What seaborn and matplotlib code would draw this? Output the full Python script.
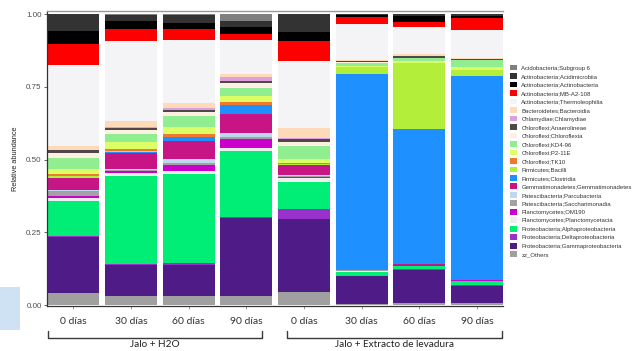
import matplotlib
matplotlib.use("Agg")
import matplotlib.pyplot as plt
import numpy as np
import pandas as pd
import seaborn as sns
from matplotlib.lines import Line2D
from matplotlib.patches import Patch, Rectangle

# taxa in legend order (top of the stack first)
taxa = [
    "Acidobacteria;Subgroup 6",
    "Actinobacteria;Acidimicrobiia",
    "Actinobacteria;Actinobacteria",
    "Actinobacteria;MB-A2-108",
    "Actinobacteria;Thermoleophilia",
    "Bacteroidetes;Bacteroidia",
    "Chlamydiae;Chlamydiae",
    "Chloroflexi;Anaerolineae",
    "Chloroflexi;Chloroflexia",
    "Chloroflexi;KD4-96",
    "Chloroflexi;P2-11E",
    "Chloroflexi;TK10",
    "Firmicutes;Bacilli",
    "Firmicutes;Clostridia",
    "Gemmatimonadetes;Gemmatimonadetes",
    "Patescibacteria;Parcubacteria",
    "Patescibacteria;Saccharimonadia",
    "Planctomycetes;OM190",
    "Planctomycetes;Planctomycetacia",
    "Proteobacteria;Alphaproteobacteria",
    "Proteobacteria;Deltaproteobacteria",
    "Proteobacteria;Gammaproteobacteria",
    "zz_Others",
]
colours = [
    "#808080", "#333333", "#000000", "#FF0000", "#F4F3F5", "#FFDAB9",
    "#DDA0DD", "#4F4848", "#FDF0E0", "#90EE90", "#DDFF66", "#EE7A30",
    "#B3EE3A", "#1E90FF", "#C71585", "#BFD8EE", "#A4A0A4", "#CC00CC",
    "#EFEDF1", "#00EE76", "#9932CC", "#4F1B87", "#A0A0A0",
]

samples = ["H2O_0", "H2O_30", "H2O_60", "H2O_90", "LEV_0", "LEV_30", "LEV_60", "LEV_90"]
tick_labels = ["0 días", "30 días", "60 días", "90 días", "0 días", "30 días", "60 días", "90 días"]

# relative abundance per sample, same order as taxa
h2o_0 = [0.000, 0.057, 0.046, 0.073, 0.278, 0.012, 0.002, 0.008, 0.019, 0.036, 0.019, 0.008,
         0.005, 0.002, 0.040, 0.004, 0.017, 0.007, 0.008, 0.122, 0.004, 0.190, 0.043]
h2o_30 = [0.005, 0.020, 0.027, 0.040, 0.276, 0.020, 0.002, 0.008, 0.013, 0.029, 0.023, 0.007,
          0.003, 0.004, 0.055, 0.004, 0.003, 0.009, 0.010, 0.300, 0.004, 0.107, 0.031]
h2o_60 = [0.005, 0.026, 0.021, 0.039, 0.216, 0.015, 0.007, 0.007, 0.016, 0.035, 0.027, 0.008,
          0.002, 0.012, 0.063, 0.012, 0.008, 0.020, 0.011, 0.306, 0.006, 0.108, 0.030]
h2o_90 = [0.023, 0.021, 0.025, 0.019, 0.118, 0.011, 0.014, 0.007, 0.016, 0.029, 0.018, 0.010,
          0.002, 0.031, 0.064, 0.016, 0.004, 0.034, 0.009, 0.228, 0.003, 0.267, 0.031]
lev_0 = [0.000, 0.061, 0.033, 0.066, 0.231, 0.036, 0.002, 0.012, 0.014, 0.042, 0.015, 0.005,
         0.002, 0.001, 0.034, 0.003, 0.002, 0.006, 0.011, 0.093, 0.035, 0.250, 0.046]
lev_30 = [0.000, 0.004, 0.007, 0.023, 0.124, 0.002, 0.000, 0.006, 0.001, 0.011, 0.003, 0.001,
          0.025, 0.671, 0.003, 0.000, 0.001, 0.002, 0.001, 0.014, 0.001, 0.098, 0.002]
lev_60 = [0.000, 0.008, 0.020, 0.016, 0.093, 0.007, 0.000, 0.006, 0.002, 0.008, 0.008, 0.001,
          0.225, 0.466, 0.003, 0.000, 0.001, 0.002, 0.001, 0.010, 0.003, 0.112, 0.008]
lev_90 = [0.000, 0.007, 0.008, 0.040, 0.096, 0.002, 0.000, 0.005, 0.001, 0.023, 0.010, 0.001,
          0.021, 0.699, 0.002, 0.000, 0.000, 0.001, 0.001, 0.015, 0.002, 0.058, 0.008]

group_labels = ["Jalo + H2O", "Jalo + Extracto de levadura"]

sns.set_theme(style="white")
plt.rcParams["font.family"] = ["Liberation Sans", "DejaVu Sans"]

W, H = 636, 351


def fx(px):
    return px / W


def fy(py):
    return 1 - py / H


df = pd.DataFrame(
    dict(zip(samples, [h2o_0, h2o_30, h2o_60, h2o_90, lev_0, lev_30, lev_60, lev_90])),
    index=taxa,
)
# cumulative height from the bottom of the stack up to (and including) each taxon
cum = df.iloc[::-1].cumsum().iloc[::-1]

fig = plt.figure(figsize=(W / 100, H / 100), dpi=100)
ax = fig.add_axes([fx(47.3), fy(306.2), fx(455.8), 295.1 / H])

# draw the tallest cumulative first, each lower layer is painted over it
for taxon, col in zip(taxa, colours):
    sns.barplot(x=samples, y=cum.loc[taxon].values, order=samples, color=col,
                saturation=1, width=0.9, linewidth=0, errorbar=None, ax=ax)

ax.set_xlim(-0.45, 7.45)
ax.set_ylim(-0.004, 1.01)
ax.set_yticks([0, 0.25, 0.5, 0.75, 1.0])
ax.set_yticklabels(["0.00", "0.25", "0.50", "0.75", "1.00"], fontsize=5.8, color="#4d4d4d")
ax.set_xticks(range(len(samples)))
ax.set_xticklabels(tick_labels, fontsize=7.5, color="#333333", family=["Lato", "DejaVu Sans"])
ax.tick_params(axis="y", left=True, length=2.5, width=0.6, color="#4d4d4d", pad=1.5)
ax.tick_params(axis="x", bottom=True, length=2, width=0.6, color="#888888", pad=6)
ax.set_xlabel("")
ax.set_ylabel("Relative abundance", fontsize=5.3, color="#222222", labelpad=5)

for side in ["left", "bottom"]:
    ax.spines[side].set_color("#333333")
    ax.spines[side].set_linewidth(0.9)
ax.spines["top"].set_color("#999999")
ax.spines["top"].set_linewidth(1.0)
ax.spines["right"].set_visible(False)

handles = [Patch(facecolor=c, edgecolor="none") for c in colours]
fig.legend(handles, taxa, loc="center left", bbox_to_anchor=(fx(510), fy(161)),
           frameon=False, fontsize=4.3, handlelength=1.15, handleheight=1.15,
           labelspacing=0.42, handletextpad=0.75, borderpad=0, borderaxespad=0,
           labelcolor="#333333")

# group brackets under the x labels
for x0, x1, label in [(48, 262, group_labels[0]), (287, 502, group_labels[1])]:
    fig.add_artist(Line2D([fx(x0), fx(x0), fx(x1), fx(x1)],
                          [fy(331), fy(338), fy(338), fy(331)],
                          transform=fig.transFigure, color="#3a3a3a", lw=1.0))
    fig.text(fx((x0 + x1) / 2), fy(340), label, ha="center", va="top",
             fontsize=7.2, color="#222222", family=["Lato", "DejaVu Sans"])

fig.add_artist(Rectangle((0, fy(330)), fx(20), 43 / H, transform=fig.transFigure,
                         facecolor="#cfe2f3", edgecolor="none"))

fig.savefig("out.png", dpi=100)
